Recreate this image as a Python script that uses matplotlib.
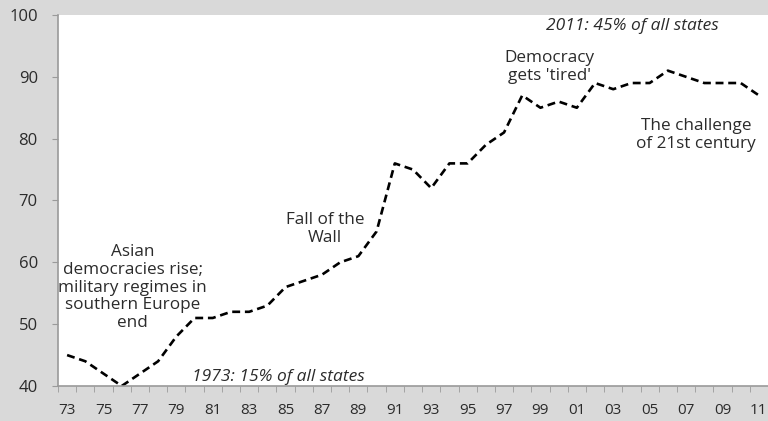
import numpy as np
import matplotlib.pyplot as plt

# share of democracies, 1973-2011
years = list(range(1973, 2012))
values = [45, 44, 42, 40, 42, 44, 48, 51, 51, 52,
          52, 53, 56, 57, 58, 60, 61, 65, 76, 75,
          72, 76, 76, 79, 81, 87, 85, 86, 85, 89,
          88, 89, 89, 91, 90, 89, 89, 89, 87]
tick_labels = ["%02d" % (y % 100) for y in years]

plt.rcParams['font.family'] = ['Open Sans', 'DejaVu Sans']
txt = '#2b2b2b'
grey = '#9a9a9a'

fig = plt.figure(figsize=(7.68, 4.21), dpi=100, facecolor='#d9d9d9')
ax = fig.add_axes([58 / 768, 35 / 421, 710 / 768, 371 / 421])
ax.set_facecolor('white')

x = np.arange(len(years))
ax.plot(x, values, color='black', lw=1.9, linestyle=(0, (3, 1.8)))

ax.set_xlim(-0.5, 38.2)
ax.set_ylim(40, 100)

ax.set_xticks(x[::2])
ax.set_xticklabels(tick_labels[::2])
ax.set_xticks(np.arange(-0.5, len(years), 1), minor=True)
ax.tick_params(axis='x', which='major', length=0, pad=12, labelsize=11, labelcolor=txt)
ax.tick_params(axis='x', which='minor', length=4.3, color=grey, direction='out')

ax.set_yticks(range(40, 101, 10))
ax.tick_params(axis='y', length=4.5, color=grey, pad=10, labelsize=12, labelcolor=txt)

for s in ['top', 'right']:
    ax.spines[s].set_visible(False)
for s in ['left', 'bottom']:
    ax.spines[s].set_color(grey)
    ax.spines[s].set_linewidth(1.2)

kw = dict(ha='center', va='center', fontsize=12.3, color=txt, linespacing=1.15)
ax.text(3.6, 55.9, "Asian\ndemocracies rise;\nmilitary regimes in\nsouthern Europe\nend", **kw)
ax.text(14.16, 65.4, "Fall of the\nWall", **kw)
ax.text(26.48, 91.6, "Democracy\ngets 'tired'", **kw)
ax.text(34.54, 80.6, "The challenge\nof 21st century", **kw)
ax.text(31.05, 98.25, "2011: 45% of all states", style='italic', ha='center', va='center',
        fontsize=12.5, color=txt)
ax.text(11.6, 41.5, "1973: 15% of all states", style='italic', ha='center', va='center',
        fontsize=12.5, color=txt)

fig.savefig('out.png', dpi=100, facecolor=fig.get_facecolor())
